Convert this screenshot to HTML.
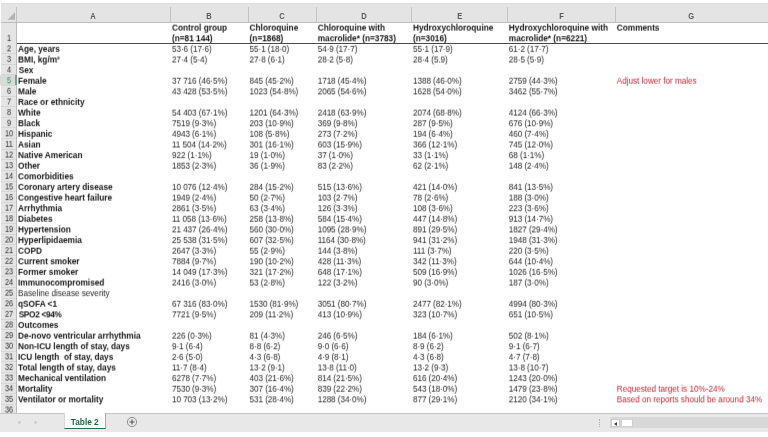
<!DOCTYPE html><html><head><meta charset="utf-8"><title>Table 2</title><style>

html,body{margin:0;padding:0;background:#fff;}
body{width:768px;height:437px;overflow:hidden;position:relative;font-family:"Liberation Sans",Arial,sans-serif;color:#222;}
#w{position:absolute;left:0;top:0;width:768px;height:437px;overflow:hidden;background:#fff;filter:blur(0.25px);}
.hd{position:absolute;left:1px;top:4px;width:767px;height:18px;background:#e4e4e4;}
.topline{position:absolute;left:1px;top:3px;width:767px;height:1px;background:#dcdcdc;}
.hdb{position:absolute;left:1px;top:22px;width:767px;height:1px;background:#bdbdbd;}
.cs{position:absolute;top:7px;width:1px;height:15px;background:#c2c2c2;}
.cl{position:absolute;top:11px;height:11px;font-size:8.2px;line-height:11px;text-align:center;color:#363636;}
/*rnc*/.rnc{position:absolute;left:1px;top:23px;width:16px;height:390px;background:#e5e5e5;border-right:1px solid #bcbcbc;box-sizing:border-box;}
.nx{display:inline-block;transform:scaleX(0.92);font-weight:bold;color:#5a5a5a;}
.rl{position:absolute;left:1px;width:15px;height:1px;background:#d6d6d6;}
.rn{position:absolute;left:0.8px;width:16px;height:11px;line-height:11px;text-align:center;color:#2c2c2c;font-size:8.2px;letter-spacing:-0.2px;transform:scaleX(0.9);}
.row{position:absolute;left:17px;width:751px;height:11px;}
.c{position:absolute;top:0;white-space:pre;font-size:8.2px;line-height:11px;height:11px;color:#262626;letter-spacing:-0.03px;}
.b{font-weight:bold;font-size:8.3px;color:#151515;letter-spacing:-0.02px;}
.r{color:#c82634;}
.n{letter-spacing:-0.08px;}
.rule{position:absolute;left:17px;top:42.5px;width:751px;height:1px;background:#4a4a4a;}
.bar{position:absolute;left:0;top:413px;width:768px;height:18.5px;background:#e8e8e8;border-top:1px solid #c6c6c6;box-sizing:border-box;}
.tab{position:absolute;left:63.5px;top:-1px;width:42.5px;height:16px;background:#fff;border-bottom:1.5px solid #2a6e4c;box-sizing:border-box;text-align:center;font-weight:bold;font-size:8.3px;line-height:18px;color:#1f6b45;border-right:1px solid #a8a8a8;border-left:1px solid #d8d8d8;}

</style></head><body><div id="w">
<svg width="0" height="0" style="position:absolute"><defs>
<filter id="s0" x="-0.01" y="-0.3" width="1.02" height="1.6" color-interpolation-filters="sRGB"><feConvolveMatrix order="3 3" kernelMatrix="0.0291 0.4268 0.0291 0.0309 0.4532 0.0309 0.0000 0.0000 0.0000" targetX="1" targetY="1" edgeMode="none" preserveAlpha="false"/></filter>
<filter id="s1" x="-0.01" y="-0.3" width="1.02" height="1.6" color-interpolation-filters="sRGB"><feConvolveMatrix order="3 3" kernelMatrix="0.0262 0.3839 0.0262 0.0338 0.4961 0.0338 0.0000 0.0000 0.0000" targetX="1" targetY="1" edgeMode="none" preserveAlpha="false"/></filter>
<filter id="s2" x="-0.01" y="-0.3" width="1.02" height="1.6" color-interpolation-filters="sRGB"><feConvolveMatrix order="3 3" kernelMatrix="0.0234 0.3432 0.0234 0.0366 0.5368 0.0366 0.0000 0.0000 0.0000" targetX="1" targetY="1" edgeMode="none" preserveAlpha="false"/></filter>
<filter id="s3" x="-0.01" y="-0.3" width="1.02" height="1.6" color-interpolation-filters="sRGB"><feConvolveMatrix order="3 3" kernelMatrix="0.0208 0.3047 0.0208 0.0392 0.5753 0.0392 0.0000 0.0000 0.0000" targetX="1" targetY="1" edgeMode="none" preserveAlpha="false"/></filter>
<filter id="s4" x="-0.01" y="-0.3" width="1.02" height="1.6" color-interpolation-filters="sRGB"><feConvolveMatrix order="3 3" kernelMatrix="0.0183 0.2684 0.0183 0.0414 0.6072 0.0414 0.0003 0.0044 0.0003" targetX="1" targetY="1" edgeMode="none" preserveAlpha="false"/></filter>
<filter id="s5" x="-0.01" y="-0.3" width="1.02" height="1.6" color-interpolation-filters="sRGB"><feConvolveMatrix order="3 3" kernelMatrix="0.0160 0.2343 0.0160 0.0430 0.6314 0.0430 0.0010 0.0143 0.0010" targetX="1" targetY="1" edgeMode="none" preserveAlpha="false"/></filter>
<filter id="s6" x="-0.01" y="-0.3" width="1.02" height="1.6" color-interpolation-filters="sRGB"><feConvolveMatrix order="3 3" kernelMatrix="0.0138 0.2024 0.0138 0.0444 0.6512 0.0444 0.0018 0.0264 0.0018" targetX="1" targetY="1" edgeMode="none" preserveAlpha="false"/></filter>
<filter id="s7" x="-0.01" y="-0.3" width="1.02" height="1.6" color-interpolation-filters="sRGB"><feConvolveMatrix order="3 3" kernelMatrix="0.0118 0.1727 0.0118 0.0454 0.6666 0.0454 0.0028 0.0407 0.0028" targetX="1" targetY="1" edgeMode="none" preserveAlpha="false"/></filter>
<filter id="s8" x="-0.01" y="-0.3" width="1.02" height="1.6" color-interpolation-filters="sRGB"><feConvolveMatrix order="3 3" kernelMatrix="0.0099 0.1452 0.0099 0.0462 0.6776 0.0462 0.0039 0.0572 0.0039" targetX="1" targetY="1" edgeMode="none" preserveAlpha="false"/></filter>
<filter id="s9" x="-0.01" y="-0.3" width="1.02" height="1.6" color-interpolation-filters="sRGB"><feConvolveMatrix order="3 3" kernelMatrix="0.0082 0.1199 0.0082 0.0467 0.6842 0.0467 0.0052 0.0759 0.0052" targetX="1" targetY="1" edgeMode="none" preserveAlpha="false"/></filter>
<filter id="s10" x="-0.01" y="-0.3" width="1.02" height="1.6" color-interpolation-filters="sRGB"><feConvolveMatrix order="3 3" kernelMatrix="0.0066 0.0968 0.0066 0.0468 0.6864 0.0468 0.0066 0.0968 0.0066" targetX="1" targetY="1" edgeMode="none" preserveAlpha="false"/></filter>
<filter id="s11" x="-0.01" y="-0.3" width="1.02" height="1.6" color-interpolation-filters="sRGB"><feConvolveMatrix order="3 3" kernelMatrix="0.0052 0.0759 0.0052 0.0467 0.6842 0.0467 0.0082 0.1199 0.0082" targetX="1" targetY="1" edgeMode="none" preserveAlpha="false"/></filter>
<filter id="s12" x="-0.01" y="-0.3" width="1.02" height="1.6" color-interpolation-filters="sRGB"><feConvolveMatrix order="3 3" kernelMatrix="0.0039 0.0572 0.0039 0.0462 0.6776 0.0462 0.0099 0.1452 0.0099" targetX="1" targetY="1" edgeMode="none" preserveAlpha="false"/></filter>
<filter id="s13" x="-0.01" y="-0.3" width="1.02" height="1.6" color-interpolation-filters="sRGB"><feConvolveMatrix order="3 3" kernelMatrix="0.0028 0.0407 0.0028 0.0455 0.6666 0.0455 0.0118 0.1727 0.0118" targetX="1" targetY="1" edgeMode="none" preserveAlpha="false"/></filter>
<filter id="s14" x="-0.01" y="-0.3" width="1.02" height="1.6" color-interpolation-filters="sRGB"><feConvolveMatrix order="3 3" kernelMatrix="0.0018 0.0264 0.0018 0.0444 0.6512 0.0444 0.0138 0.2024 0.0138" targetX="1" targetY="1" edgeMode="none" preserveAlpha="false"/></filter>
<filter id="s15" x="-0.01" y="-0.3" width="1.02" height="1.6" color-interpolation-filters="sRGB"><feConvolveMatrix order="3 3" kernelMatrix="0.0010 0.0143 0.0010 0.0430 0.6314 0.0430 0.0160 0.2343 0.0160" targetX="1" targetY="1" edgeMode="none" preserveAlpha="false"/></filter>
<filter id="s16" x="-0.01" y="-0.3" width="1.02" height="1.6" color-interpolation-filters="sRGB"><feConvolveMatrix order="3 3" kernelMatrix="0.0003 0.0044 0.0003 0.0414 0.6072 0.0414 0.0183 0.2684 0.0183" targetX="1" targetY="1" edgeMode="none" preserveAlpha="false"/></filter>
<filter id="s17" x="-0.01" y="-0.3" width="1.02" height="1.6" color-interpolation-filters="sRGB"><feConvolveMatrix order="3 3" kernelMatrix="0.0000 0.0000 0.0000 0.0392 0.5753 0.0392 0.0208 0.3047 0.0208" targetX="1" targetY="1" edgeMode="none" preserveAlpha="false"/></filter>
<filter id="s18" x="-0.01" y="-0.3" width="1.02" height="1.6" color-interpolation-filters="sRGB"><feConvolveMatrix order="3 3" kernelMatrix="0.0000 0.0000 0.0000 0.0366 0.5368 0.0366 0.0234 0.3432 0.0234" targetX="1" targetY="1" edgeMode="none" preserveAlpha="false"/></filter>
<filter id="s19" x="-0.01" y="-0.3" width="1.02" height="1.6" color-interpolation-filters="sRGB"><feConvolveMatrix order="3 3" kernelMatrix="0.0000 0.0000 0.0000 0.0338 0.4961 0.0338 0.0262 0.3839 0.0262" targetX="1" targetY="1" edgeMode="none" preserveAlpha="false"/></filter>
</defs></svg>
<div class="topline"></div><div class="hd"></div><div class="hdb"></div>
<svg width="17" height="19" style="position:absolute;left:0;top:4px"><polygon points="15,8.2 15,15.8 7.6,15.8" fill="#b2b2b2"/></svg>
<div class="cl" style="left:16.5px;width:153.9px"><span class="nx">A</span></div>
<div class="cs" style="left:16px"></div>
<div class="cl" style="left:170.4px;width:77.79999999999998px"><span class="nx">B</span></div>
<div class="cs" style="left:170px"></div>
<div class="cl" style="left:248.2px;width:68.10000000000002px"><span class="nx">C</span></div>
<div class="cs" style="left:248px"></div>
<div class="cl" style="left:316.3px;width:95.0px"><span class="nx">D</span></div>
<div class="cs" style="left:316px"></div>
<div class="cl" style="left:411.3px;width:96.19999999999999px"><span class="nx">E</span></div>
<div class="cs" style="left:411px"></div>
<div class="cl" style="left:507.5px;width:107.79999999999995px"><span class="nx">F</span></div>
<div class="cs" style="left:507px"></div>
<div class="cl" style="left:615.3px;width:152.70000000000005px"><span class="nx">G</span></div>
<div class="cs" style="left:615px"></div>
<div class="rnc"></div>
<div style="position:absolute;left:0;top:74.8px;width:17px;height:10.6px;background:#d4ddd7;border-right:2px solid #7aa08c;box-sizing:border-box"></div>
<div class="rl" style="top:53px"></div>
<div class="rl" style="top:64px"></div>
<div class="rl" style="top:74px"></div>
<div class="rl" style="top:85px"></div>
<div class="rl" style="top:96px"></div>
<div class="rl" style="top:106px"></div>
<div class="rl" style="top:117px"></div>
<div class="rl" style="top:127px"></div>
<div class="rl" style="top:138px"></div>
<div class="rl" style="top:149px"></div>
<div class="rl" style="top:159px"></div>
<div class="rl" style="top:170px"></div>
<div class="rl" style="top:181px"></div>
<div class="rl" style="top:191px"></div>
<div class="rl" style="top:202px"></div>
<div class="rl" style="top:212px"></div>
<div class="rl" style="top:223px"></div>
<div class="rl" style="top:234px"></div>
<div class="rl" style="top:244px"></div>
<div class="rl" style="top:255px"></div>
<div class="rl" style="top:266px"></div>
<div class="rl" style="top:276px"></div>
<div class="rl" style="top:287px"></div>
<div class="rl" style="top:298px"></div>
<div class="rl" style="top:308px"></div>
<div class="rl" style="top:319px"></div>
<div class="rl" style="top:329px"></div>
<div class="rl" style="top:340px"></div>
<div class="rl" style="top:351px"></div>
<div class="rl" style="top:361px"></div>
<div class="rl" style="top:372px"></div>
<div class="rl" style="top:383px"></div>
<div class="rl" style="top:393px"></div>
<div class="rl" style="top:404px"></div>
<div class="rn" style="top:33px;filter:url(#s10)">1</div>
<div class="rn" style="top:43px;filter:url(#s18)">2</div>
<div class="rn" style="top:54px;filter:url(#s10)">3</div>
<div class="rn" style="top:65px;filter:url(#s3)">4</div>
<div class="rn" style="top:75px;filter:url(#s15);color:#4a7a60">5</div>
<div class="rn" style="top:86px;filter:url(#s8)">6</div>
<div class="rn" style="top:97px;filter:url(#s0)">7</div>
<div class="rn" style="top:107px;filter:url(#s12)">8</div>
<div class="rn" style="top:118px;filter:url(#s5)">9</div>
<div class="rn" style="top:128px;filter:url(#s17)">10</div>
<div class="rn" style="top:139px;filter:url(#s10)">11</div>
<div class="rn" style="top:150px;filter:url(#s2)">12</div>
<div class="rn" style="top:160px;filter:url(#s14)">13</div>
<div class="rn" style="top:171px;filter:url(#s7)">14</div>
<div class="rn" style="top:181px;filter:url(#s19)">15</div>
<div class="rn" style="top:192px;filter:url(#s12)">16</div>
<div class="rn" style="top:203px;filter:url(#s4)">17</div>
<div class="rn" style="top:213px;filter:url(#s16)">18</div>
<div class="rn" style="top:224px;filter:url(#s9)">19</div>
<div class="rn" style="top:235px;filter:url(#s1)">20</div>
<div class="rn" style="top:245px;filter:url(#s14)">21</div>
<div class="rn" style="top:256px;filter:url(#s6)">22</div>
<div class="rn" style="top:266px;filter:url(#s18)">23</div>
<div class="rn" style="top:277px;filter:url(#s11)">24</div>
<div class="rn" style="top:288px;filter:url(#s3)">25</div>
<div class="rn" style="top:298px;filter:url(#s16)">26</div>
<div class="rn" style="top:309px;filter:url(#s8)">27</div>
<div class="rn" style="top:320px;filter:url(#s0)">28</div>
<div class="rn" style="top:330px;filter:url(#s13)">29</div>
<div class="rn" style="top:341px;filter:url(#s5)">30</div>
<div class="rn" style="top:351px;filter:url(#s18)">31</div>
<div class="rn" style="top:362px;filter:url(#s10)">32</div>
<div class="rn" style="top:373px;filter:url(#s2)">33</div>
<div class="rn" style="top:383px;filter:url(#s15)">34</div>
<div class="rn" style="top:394px;filter:url(#s7)">35</div>
<div class="rn" style="top:405px;filter:url(#s0)">36</div>
<div class="row" style="top:23px;filter:url(#s3)"><span class="c b" style="left:155.00px">Control group</span><span class="c b" style="left:232.60px">Chloroquine</span><span class="c b" style="left:300.70px">Chloroquine with</span><span class="c b" style="left:396.00px">Hydroxychloroquine</span><span class="c b" style="left:491.85px">Hydroxychloroquine with</span><span class="c b" style="left:599.75px">Comments</span></div>
<div class="row" style="top:33px;filter:url(#s16)"><span class="c b" style="left:155.00px">(n=81 144)</span><span class="c b" style="left:232.60px">(n=1868)</span><span class="c b" style="left:300.70px">macrolide* (n=3783)</span><span class="c b" style="left:396.00px">(n=3016)</span><span class="c b" style="left:491.85px">macrolide* (n=6221)</span></div>
<div class="rule"></div>
<div class="row" style="top:44px;filter:url(#s8)"><span class="c b" style="left:1.05px">Age, years</span><span class="c n" style="left:155.00px">53·6 (17·6)</span><span class="c n" style="left:232.60px">55·1 (18·0)</span><span class="c n" style="left:300.70px">54·9 (17·7)</span><span class="c n" style="left:396.00px">55·1 (17·9)</span><span class="c n" style="left:491.85px">61·2 (17·7)</span></div>
<div class="row" style="top:55px;filter:url(#s0)"><span class="c b" style="left:1.05px">BMI, kg/m²</span><span class="c n" style="left:155.00px">27·4 (5·4)</span><span class="c n" style="left:232.60px">27·8 (6·1)</span><span class="c n" style="left:300.70px">28·2 (5·8)</span><span class="c n" style="left:396.00px">28·4 (5.9)</span><span class="c n" style="left:491.85px">28·5 (5·9)</span></div>
<div class="row" style="top:65px;filter:url(#s13)"><span class="c b" style="left:1.65px">Sex</span></div>
<div class="row" style="top:76px;filter:url(#s5)"><span class="c b" style="left:1.05px">Female</span><span class="c n" style="left:155.00px">37 716 (46·5%)</span><span class="c n" style="left:232.60px">845 (45·2%)</span><span class="c n" style="left:300.70px">1718 (45·4%)</span><span class="c n" style="left:396.00px">1388 (46·0%)</span><span class="c n" style="left:491.85px">2759 (44·3%)</span><span class="c r" style="left:599.75px">Adjust lower for males</span></div>
<div class="row" style="top:86px;filter:url(#s18)"><span class="c b" style="left:1.05px">Male</span><span class="c n" style="left:155.00px">43 428 (53·5%)</span><span class="c n" style="left:232.60px">1023 (54·8%)</span><span class="c n" style="left:300.70px">2065 (54·6%)</span><span class="c n" style="left:396.00px">1628 (54·0%)</span><span class="c n" style="left:491.85px">3462 (55·7%)</span></div>
<div class="row" style="top:97px;filter:url(#s10)"><span class="c b" style="left:1.05px">Race or ethnicity</span></div>
<div class="row" style="top:108px;filter:url(#s2)"><span class="c b" style="left:1.05px">White</span><span class="c n" style="left:155.00px">54 403 (67·1%)</span><span class="c n" style="left:232.60px">1201 (64·3%)</span><span class="c n" style="left:300.70px">2418 (63·9%)</span><span class="c n" style="left:396.00px">2074 (68·8%)</span><span class="c n" style="left:491.85px">4124 (66·3%)</span></div>
<div class="row" style="top:118px;filter:url(#s15)"><span class="c b" style="left:1.05px">Black</span><span class="c n" style="left:155.00px">7519 (9·3%)</span><span class="c n" style="left:232.60px">203 (10·9%)</span><span class="c n" style="left:300.70px">369 (9·8%)</span><span class="c n" style="left:396.00px">287 (9·5%)</span><span class="c n" style="left:491.85px">676 (10·9%)</span></div>
<div class="row" style="top:129px;filter:url(#s7)"><span class="c b" style="left:1.05px">Hispanic</span><span class="c n" style="left:155.00px">4943 (6·1%)</span><span class="c n" style="left:232.60px">108 (5·8%)</span><span class="c n" style="left:300.70px">273 (7·2%)</span><span class="c n" style="left:396.00px">194 (6·4%)</span><span class="c n" style="left:491.85px">460 (7·4%)</span></div>
<div class="row" style="top:140px;filter:url(#s0)"><span class="c b" style="left:1.05px">Asian</span><span class="c n" style="left:155.00px">11 504 (14·2%)</span><span class="c n" style="left:232.60px">301 (16·1%)</span><span class="c n" style="left:300.70px">603 (15·9%)</span><span class="c n" style="left:396.00px">366 (12·1%)</span><span class="c n" style="left:491.85px">745 (12·0%)</span></div>
<div class="row" style="top:150px;filter:url(#s12)"><span class="c b" style="left:1.05px">Native American</span><span class="c n" style="left:155.00px">922 (1·1%)</span><span class="c n" style="left:232.60px">19 (1·0%)</span><span class="c n" style="left:300.70px">37 (1·0%)</span><span class="c n" style="left:396.00px">33 (1·1%)</span><span class="c n" style="left:491.85px">68 (1·1%)</span></div>
<div class="row" style="top:161px;filter:url(#s4)"><span class="c b" style="left:1.05px">Other</span><span class="c n" style="left:155.00px">1853 (2·3%)</span><span class="c n" style="left:232.60px">36 (1·9%)</span><span class="c n" style="left:300.70px">83 (2·2%)</span><span class="c n" style="left:396.00px">62 (2·1%)</span><span class="c n" style="left:491.85px">148 (2·4%)</span></div>
<div class="row" style="top:171px;filter:url(#s17)"><span class="c b" style="left:1.05px">Comorbidities</span></div>
<div class="row" style="top:182px;filter:url(#s9)"><span class="c b" style="left:1.05px">Coronary artery disease</span><span class="c n" style="left:155.00px">10 076 (12·4%)</span><span class="c n" style="left:232.60px">284 (15·2%)</span><span class="c n" style="left:300.70px">515 (13·6%)</span><span class="c n" style="left:396.00px">421 (14·0%)</span><span class="c n" style="left:491.85px">841 (13·5%)</span></div>
<div class="row" style="top:193px;filter:url(#s2)"><span class="c b" style="left:1.05px">Congestive heart failure</span><span class="c n" style="left:155.00px">1949 (2·4%)</span><span class="c n" style="left:232.60px">50 (2·7%)</span><span class="c n" style="left:300.70px">103 (2·7%)</span><span class="c n" style="left:396.00px">78 (2·6%)</span><span class="c n" style="left:491.85px">188 (3·0%)</span></div>
<div class="row" style="top:203px;filter:url(#s14)"><span class="c b" style="left:1.05px">Arrhythmia</span><span class="c n" style="left:155.00px">2861 (3·5%)</span><span class="c n" style="left:232.60px">63 (3·4%)</span><span class="c n" style="left:300.70px">126 (3·3%)</span><span class="c n" style="left:396.00px">108 (3·6%)</span><span class="c n" style="left:491.85px">223 (3·6%)</span></div>
<div class="row" style="top:214px;filter:url(#s6)"><span class="c b" style="left:1.05px">Diabetes</span><span class="c n" style="left:155.00px">11 058 (13·6%)</span><span class="c n" style="left:232.60px">258 (13·8%)</span><span class="c n" style="left:300.70px">584 (15·4%)</span><span class="c n" style="left:396.00px">447 (14·8%)</span><span class="c n" style="left:491.85px">913 (14·7%)</span></div>
<div class="row" style="top:224px;filter:url(#s19)"><span class="c b" style="left:1.05px">Hypertension</span><span class="c n" style="left:155.00px">21 437 (26·4%)</span><span class="c n" style="left:232.60px">560 (30·0%)</span><span class="c n" style="left:300.70px">1095 (28·9%)</span><span class="c n" style="left:396.00px">891 (29·5%)</span><span class="c n" style="left:491.85px">1827 (29·4%)</span></div>
<div class="row" style="top:235px;filter:url(#s11)"><span class="c b" style="left:1.05px">Hyperlipidaemia</span><span class="c n" style="left:155.00px">25 538 (31·5%)</span><span class="c n" style="left:232.60px">607 (32·5%)</span><span class="c n" style="left:300.70px">1164 (30·8%)</span><span class="c n" style="left:396.00px">941 (31·2%)</span><span class="c n" style="left:491.85px">1948 (31·3%)</span></div>
<div class="row" style="top:246px;filter:url(#s4)"><span class="c b" style="left:1.05px">COPD</span><span class="c n" style="left:155.00px">2647 (3·3%)</span><span class="c n" style="left:232.60px">55 (2·9%)</span><span class="c n" style="left:300.70px">144 (3·8%)</span><span class="c n" style="left:396.00px">111 (3·7%)</span><span class="c n" style="left:491.85px">220 (3·5%)</span></div>
<div class="row" style="top:256px;filter:url(#s16)"><span class="c b" style="left:1.05px">Current smoker</span><span class="c n" style="left:155.00px">7884 (9·7%)</span><span class="c n" style="left:232.60px">190 (10·2%)</span><span class="c n" style="left:300.70px">428 (11·3%)</span><span class="c n" style="left:396.00px">342 (11·3%)</span><span class="c n" style="left:491.85px">644 (10·4%)</span></div>
<div class="row" style="top:267px;filter:url(#s8)"><span class="c b" style="left:1.05px">Former smoker</span><span class="c n" style="left:155.00px">14 049 (17·3%)</span><span class="c n" style="left:232.60px">321 (17·2%)</span><span class="c n" style="left:300.70px">648 (17·1%)</span><span class="c n" style="left:396.00px">509 (16·9%)</span><span class="c n" style="left:491.85px">1026 (16·5%)</span></div>
<div class="row" style="top:278px;filter:url(#s1)"><span class="c b" style="left:1.05px">Immunocompromised</span><span class="c n" style="left:155.00px">2416 (3·0%)</span><span class="c n" style="left:232.60px">53 (2·8%)</span><span class="c n" style="left:300.70px">122 (3·2%)</span><span class="c n" style="left:396.00px">90 (3·0%)</span><span class="c n" style="left:491.85px">187 (3·0%)</span></div>
<div class="row" style="top:288px;filter:url(#s13)"><span class="c" style="left:1.05px">Baseline disease severity</span></div>
<div class="row" style="top:299px;filter:url(#s6)"><span class="c b" style="left:1.05px">qSOFA &lt;1</span><span class="c n" style="left:155.00px">67 316 (83·0%)</span><span class="c n" style="left:232.60px">1530 (81·9%)</span><span class="c n" style="left:300.70px">3051 (80·7%)</span><span class="c n" style="left:396.00px">2477 (82·1%)</span><span class="c n" style="left:491.85px">4994 (80·3%)</span></div>
<div class="row" style="top:309px;filter:url(#s18)"><span class="c b" style="left:1.65px;letter-spacing:-0.33px">SPO2 &lt;94%</span><span class="c n" style="left:155.00px">7721 (9·5%)</span><span class="c n" style="left:232.60px">209 (11·2%)</span><span class="c n" style="left:300.70px">413 (10·9%)</span><span class="c n" style="left:396.00px">323 (10·7%)</span><span class="c n" style="left:491.85px">651 (10·5%)</span></div>
<div class="row" style="top:320px;filter:url(#s10)"><span class="c b" style="left:1.05px">Outcomes</span></div>
<div class="row" style="top:331px;filter:url(#s3)"><span class="c b" style="left:1.05px">De-novo ventricular arrhythmia</span><span class="c n" style="left:155.00px">226 (0·3%)</span><span class="c n" style="left:232.60px">81 (4·3%)</span><span class="c n" style="left:300.70px">246 (6·5%)</span><span class="c n" style="left:396.00px">184 (6·1%)</span><span class="c n" style="left:491.85px">502 (8·1%)</span></div>
<div class="row" style="top:341px;filter:url(#s15)"><span class="c b" style="left:1.05px">Non-ICU length of stay, days</span><span class="c n" style="left:155.00px">9·1 (6·4)</span><span class="c n" style="left:232.60px">8·8 (6·2)</span><span class="c n" style="left:300.70px">9·0 (6·6)</span><span class="c n" style="left:396.00px">8·9 (6·2)</span><span class="c n" style="left:491.85px">9·1 (6·7)</span></div>
<div class="row" style="top:352px;filter:url(#s8)"><span class="c b" style="left:1.05px">ICU length  of stay, days</span><span class="c n" style="left:155.00px">2·6 (5·0)</span><span class="c n" style="left:232.60px">4·3 (6·8)</span><span class="c n" style="left:300.70px">4·9 (8·1)</span><span class="c n" style="left:396.00px">4·3 (6·8)</span><span class="c n" style="left:491.85px">4·7 (7·8)</span></div>
<div class="row" style="top:363px;filter:url(#s0)"><span class="c b" style="left:1.05px">Total length of stay, days</span><span class="c n" style="left:155.00px">11·7 (8·4)</span><span class="c n" style="left:232.60px">13·2 (9·1)</span><span class="c n" style="left:300.70px">13·8 (11·0)</span><span class="c n" style="left:396.00px">13·2 (9·3)</span><span class="c n" style="left:491.85px">13·8 (10·7)</span></div>
<div class="row" style="top:373px;filter:url(#s12)"><span class="c b" style="left:1.05px">Mechanical ventilation</span><span class="c n" style="left:155.00px">6278 (7·7%)</span><span class="c n" style="left:232.60px">403 (21·6%)</span><span class="c n" style="left:300.70px">814 (21·5%)</span><span class="c n" style="left:396.00px">616 (20·4%)</span><span class="c n" style="left:491.85px">1243 (20·0%)</span></div>
<div class="row" style="top:384px;filter:url(#s5)"><span class="c b" style="left:1.05px">Mortality</span><span class="c n" style="left:155.00px">7530 (9·3%)</span><span class="c n" style="left:232.60px">307 (16·4%)</span><span class="c n" style="left:300.70px">839 (22·2%)</span><span class="c n" style="left:396.00px">543 (18·0%)</span><span class="c n" style="left:491.85px">1479 (23·8%)</span><span class="c r" style="left:599.75px">Requested target is 10%-24%</span></div>
<div class="row" style="top:394px;filter:url(#s17)"><span class="c b" style="left:1.05px">Ventilator or mortality</span><span class="c n" style="left:155.00px">10 703 (13·2%)</span><span class="c n" style="left:232.60px">531 (28·4%)</span><span class="c n" style="left:300.70px">1288 (34·0%)</span><span class="c n" style="left:396.00px">877 (29·1%)</span><span class="c n" style="left:491.85px">2120 (34·1%)</span><span class="c r" style="left:599.75px">Based on reports should be around 34%</span></div>
<div class="bar">
<svg width="60" height="18" style="position:absolute;left:0;top:0"><polygon points="17.5,8.5 20.5,6.5 20.5,10.5" fill="#c9c9c9"/><polygon points="37.5,8.5 34.5,6.5 34.5,10.5" fill="#c9c9c9"/></svg>
<div class="tab">Table 2</div>
<svg width="14" height="14" style="position:absolute;left:124.7px;top:1px"><circle cx="7" cy="7" r="4.6" fill="none" stroke="#858585" stroke-width="0.9"/><path d="M4.5 7h5M7 4.5v5" stroke="#555" stroke-width="1.1"/></svg>
<div style="position:absolute;left:599px;top:5px;width:1px;height:8px;border-left:1px dotted #b0b0b0"></div>
<div style="position:absolute;left:609.5px;top:3px;width:159px;height:11px;background:#d8d8d8"></div>
<div style="position:absolute;left:611px;top:4.5px;width:8.5px;height:8.5px;background:#fff;border:0.5px solid #ccc;box-sizing:border-box"><svg width="7" height="8" style="position:absolute;left:0;top:0"><polygon points="2,4 5,2 5,6" fill="#444"/></svg></div>
<div style="position:absolute;left:621px;top:4.5px;width:12px;height:8.5px;background:#fff;border:0.5px solid #d0d0d0;box-sizing:border-box"></div>
</div>
</div></body></html>
